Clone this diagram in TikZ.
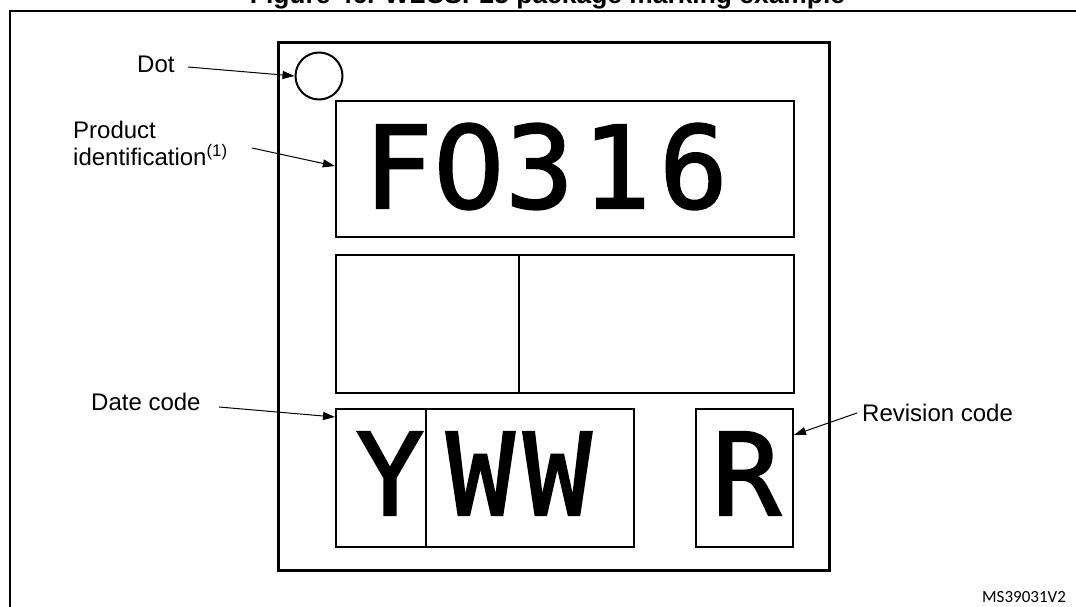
\documentclass[tikz,border=0pt]{standalone}
\usepackage{fontspec}
\setmainfont{Liberation Sans}
\newfontfamily\markfont[LetterSpace=7.4,FakeBold=1.8]{DejaVu Sans Mono}
\newfontfamily\markfontone[FakeBold=1.8]{DejaVu Sans Mono}
\newfontfamily\zerofont[LetterSpace=4.0,FakeBold=1.8]{DejaVu Sans}
\newfontfamily\codefont{Carlito}
\usetikzlibrary{arrows.meta}
\begin{document}
\begin{tikzpicture}[x=1pt,y=-1pt,
  frameline/.style={line width=2.6pt},
  pkgbox/.style={draw, line width=3pt, inner sep=0pt, rectangle},
  markbox/.style={draw, line width=2.4pt, inner sep=0pt, rectangle},
  codebox/.style={draw, line width=2pt, inner sep=0pt, rectangle},
  lbl/.style={font=\fontsize{24}{27}\selectfont, inner sep=0pt, align=left},
  ptr/.style={line width=1pt, -{Triangle[length=12pt,width=8pt]}},
  glyphs/.style={font=\markfont\fontsize{114}{114}\selectfont, inner sep=0pt, anchor=base},
  glyphone/.style={font=\markfontone\fontsize{114}{114}\selectfont, inner sep=0pt, anchor=base},
  titlestyle/.style={font=\bfseries\fontsize{26.4}{30}\selectfont, inner sep=0pt, anchor=base}
]
\useasboundingbox (0,0) rectangle (1076,607);

% title (cut by the top edge, as in the reference) and outer frame
\node[titlestyle] (title) at (547.5,4) {Figure 46. WLCSP25 package marking example};
\draw[frameline] (10,700) -- (10,11) -- (1100,11);

% package
\node[pkgbox, minimum width=551pt, minimum height=527pt] (pkg) at (553.5,306.5) {};
\node[draw, circle, line width=2pt, minimum size=47pt, inner sep=0pt] (dotc) at (319,76) {};

% product identification box
\node[markbox, minimum width=458pt, minimum height=136pt] (pidbox) at (565,169) {};
\node[glyphs] (pidtext) at (546,208) {F{\zerofont\fontsize{114}{114}\selectfont 0}316};

% middle box with divider
\node[markbox, minimum width=458pt, minimum height=138pt] (midbox) at (565,324) {};
\coordinate (midsplit) at (519,255);
\draw[line width=2.4pt] (midsplit) -- (midsplit |- midbox.south);

% date code boxes
\node[codebox, minimum width=90pt, minimum height=138pt] (ybox) at (381,478) {};
\node[codebox, minimum width=208pt, minimum height=138pt] (wwbox) at (530,478) {};
\node[glyphone] (ytext) at (390,515) {Y};
\node[glyphs] (wwtext) at (519,515) {WW};

% revision code box
\node[codebox, minimum width=97pt, minimum height=138pt] (rbox) at (744.5,478) {};
\node[glyphone] (rtext) at (746.5,515) {R};

% labels
\node[lbl, anchor=base west] (dotlbl) at (137,73) {Dot};
\node[lbl, anchor=north west] (pidlbl) at (73,120.5) {Product\\identification\textsuperscript{(1)}};
\node[lbl, anchor=base west] (datelbl) at (91,410) {Date code};
\node[lbl, anchor=base west] (revlbl) at (862,421) {Revision code};
\node[font=\codefont\fontsize{17}{17}\selectfont, inner sep=0pt, anchor=base west] (ref) at (982,602) {MS39031V2};

% pointers
\coordinate (dotfrom) at (188,67);
\coordinate (pidfrom) at (252,148);
\coordinate (datefrom) at (219,407);
\coordinate (revfrom) at (857,413);
\draw[ptr] (dotfrom) -- (dotc.west);
\draw[ptr] (pidfrom) -- ([yshift=3pt]pidbox.west);
\draw[ptr] (datefrom) -- ([yshift=-9pt]ybox.north west);
\draw[ptr] (revfrom) -- ([yshift=43pt]rbox.east);
\end{tikzpicture}
\end{document}
